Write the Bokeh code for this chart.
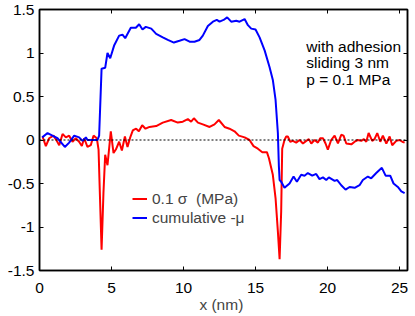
from bokeh.plotting import figure
from bokeh.models import Range1d, LinearAxis, FixedTicker, Span, Legend, LegendItem, Label
from bokeh.embed import file_html
from bokeh.resources import INLINE

# ---- data ----
x_ticks = [0, 5, 10, 15, 20, 25]
x_tick_labels = ["0", "5", "10", "15", "20", "25"]
y_ticks = [-1.5, -1, -0.5, 0, 0.5, 1, 1.5]
y_tick_labels = ["-1.5", "-1", "-0.5", "0", "0.5", "1", "1.5"]

sigma_x = [0.21, 0.44, 0.67, 0.97, 1.13, 1.37, 1.6, 1.83, 2.06, 2.29, 2.52, 2.75, 2.94, 3.1,
           3.33, 3.56, 3.75, 3.98, 4.1, 4.19, 4.31, 4.44, 4.56, 4.72, 4.95, 5.14, 5.3, 5.53,
           5.72, 5.93, 6.11, 6.3, 6.48, 6.57, 6.71, 6.9, 7.13, 7.36, 7.64, 8.1, 8.56, 9.14,
           9.6, 9.95, 10.3, 10.53, 10.72, 11.0, 11.34, 11.81, 12.15, 12.45, 12.85, 13.19,
           13.54, 13.84, 14.24, 14.58, 14.86, 15.16, 15.47, 15.79, 15.93, 16.2, 16.39, 16.55,
           16.67, 16.78, 16.85, 17.01, 17.13, 17.24, 17.41, 17.59, 17.82, 18.06, 18.29, 18.52,
           18.7, 18.87, 19.1, 19.33, 19.49, 19.68, 19.86, 20.02, 20.25, 20.49, 20.72, 20.95,
           21.11, 21.3, 21.65, 21.88, 22.1, 22.34, 22.52, 22.69, 22.85, 23.1, 23.26, 23.45,
           23.66, 23.84, 24.08, 24.31, 24.49, 24.77, 25.0, 25.19, 25.35]
sigma_y = [0.04, -0.07, 0.02, 0.05, 0.01, -0.06, 0.07, 0.03, 0.05, -0.02, 0.02, -0.02, -0.07, 0.02,
           -0.08, -0.06, 0.05, 0.02, -0.11, -0.61, -1.26, -0.61, -0.17, -0.29, 0.10, -0.15, -0.11, -0.02,
           -0.12, 0.04, -0.08, 0.03, 0.11, 0.12, 0.13, 0.10, 0.17, 0.13, 0.15, 0.16, 0.20, 0.23,
           0.20, 0.21, 0.24, 0.21, 0.25, 0.20, 0.18, 0.15, 0.18, 0.23, 0.15, 0.13,
           0.10, 0.05, 0.03, 0.0, -0.07, -0.10, -0.14, -0.14, -0.21, -0.40, -0.67, -1.05,
           -1.37, -0.82, -0.10, 0.0, 0.04, 0.04, -0.02, -0.01, -0.03, 0.0, -0.04, -0.01,
           0.01, -0.04, 0.0, -0.03, 0.02, 0.02, -0.04, -0.11, 0.0, 0.05, -0.04, 0.06,
           0.05, -0.04, -0.05, -0.02, 0.0, -0.01, 0.01, -0.02, 0.08, -0.01, 0.01, 0.08,
           -0.02, 0.05, -0.04, 0.04, -0.06, -0.01, 0.0, -0.02, -0.03]

mu_x = [0.19, 0.56, 0.9, 1.25, 1.76, 2.06, 2.41, 2.75, 2.99, 3.22, 3.33, 3.7, 4.03, 4.14,
        4.31, 4.56, 4.72, 4.91, 5.19, 5.53, 5.76, 5.95, 6.34, 6.69, 6.92, 7.15, 7.38, 7.76,
        8.1, 8.56, 8.91, 9.33, 9.72, 10.07, 10.42, 10.76, 11.11, 11.34, 11.69, 12.04, 12.31,
        12.5, 12.78, 13.03, 13.31, 13.66, 13.89, 14.24, 14.47, 14.7, 15.0, 15.28, 15.63,
        15.97, 16.2, 16.39, 16.55, 16.62, 16.67, 16.78, 17.01, 17.36, 17.64, 17.87, 18.17,
        18.4, 18.63, 18.94, 19.21, 19.44, 19.68, 19.91, 20.09, 20.49, 20.67, 20.95, 21.25,
        21.53, 21.88, 22.22, 22.45, 22.8, 23.03, 23.38, 23.77, 24.03, 24.35, 24.58, 24.88,
        25.12, 25.35]
mu_y = [0.03, 0.08, 0.05, 0.02, -0.08, -0.03, 0.05, 0.03, -0.01, 0.03, 0.0, 0.0, 0.0, 0.05,
        0.82, 0.83, 1.0, 0.94, 1.09, 1.2, 1.21, 1.17, 1.29, 1.29, 1.33, 1.27, 1.30, 1.28,
        1.22, 1.18, 1.15, 1.12, 1.14, 1.16, 1.13, 1.13, 1.15, 1.2, 1.31, 1.36, 1.38,
        1.36, 1.38, 1.41, 1.36, 1.37, 1.36, 1.39, 1.32, 1.28, 1.27, 1.18, 1.03,
        0.84, 0.69, 0.46, 0.08, -0.3, -0.46, -0.48, -0.55, -0.50, -0.42, -0.48, -0.40,
        -0.41, -0.38, -0.41, -0.39, -0.45, -0.43, -0.46, -0.43, -0.47, -0.46, -0.52, -0.57,
        -0.54, -0.55, -0.52, -0.46, -0.42, -0.44, -0.38, -0.32, -0.41, -0.41, -0.50, -0.54,
        -0.59, -0.61]

legend_labels = ["0.1 \u03c3  (MPa)", "cumulative -\u03bc"]
notes = ["with adhesion", "sliding 3 nm", "p = 0.1 MPa"]
x_label = "x  (nm)"

FONT = "Liberation Sans"
FS = "15.5px"

p = figure(width=410, height=315, output_backend="svg", toolbar_location=None,
           x_range=Range1d(0, 25.55), y_range=Range1d(-1.5, 1.5),
           min_border_left=39, min_border_right=3, min_border_top=9, min_border_bottom=44)
p.background_fill_color = "white"
p.border_fill_color = "white"
p.grid.visible = False
p.outline_line_color = "black"
p.outline_line_width = 1.5

def style_axis(ax, ticks, labels, show_labels):
    ax.ticker = FixedTicker(ticks=ticks)
    ax.major_tick_in = 4
    ax.major_tick_out = 0
    ax.minor_tick_in = 0
    ax.minor_tick_out = 0
    ax.axis_line_color = "black"
    ax.axis_line_width = 1.5
    ax.major_tick_line_color = "black"
    ax.major_tick_line_width = 1
    ax.major_label_text_font = FONT
    ax.major_label_text_color = "black"
    ax.major_label_text_font_size = FS
    if show_labels:
        ax.major_label_overrides = dict(zip(ticks, labels))
    else:
        ax.major_label_overrides = {t: "" for t in ticks}
        ax.major_label_standoff = 0

style_axis(p.xaxis[0], x_ticks, x_tick_labels, True)
style_axis(p.yaxis[0], y_ticks, y_tick_labels, True)
p.xaxis[0].major_label_standoff = 12
p.yaxis[0].major_label_standoff = 5
p.xaxis[0].axis_label = x_label
p.xaxis[0].axis_label_text_font = FONT
p.xaxis[0].axis_label_text_font_size = FS
p.xaxis[0].axis_label_text_font_style = "normal"
p.xaxis[0].axis_label_standoff = 0

top_axis = LinearAxis()
style_axis(top_axis, x_ticks, x_tick_labels, False)
p.add_layout(top_axis, "above")
right_axis = LinearAxis()
style_axis(right_axis, y_ticks, y_tick_labels, False)
p.add_layout(right_axis, "right")

p.add_layout(Span(location=0, dimension="width", line_color="black",
                  line_width=1, line_dash="2 2"))

r_sigma = p.line(sigma_x, sigma_y, line_color="#ff0000", line_width=2)
r_mu = p.line(mu_x, mu_y, line_color="#0000ff", line_width=2)

legend = Legend(items=[LegendItem(label=legend_labels[0], renderers=[r_sigma]),
                       LegendItem(label=legend_labels[1], renderers=[r_mu])],
                location=(93, 43), glyph_width=15, glyph_height=19, label_height=19,
                label_standoff=5, spacing=0, padding=0, margin=0,
                border_line_color=None, background_fill_alpha=0,
                label_text_font=FONT, label_text_font_size=FS)
p.add_layout(legend)

for txt, yy in zip(notes, [1.08, 0.89, 0.70]):
    p.add_layout(Label(x=18.52, y=yy, text=txt, text_font=FONT, text_font_size=FS,
                       text_baseline="alphabetic", text_color="black"))

open("out.html", "w").write(file_html(p, INLINE))
